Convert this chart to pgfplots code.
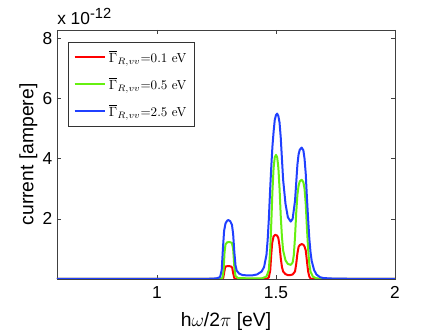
\documentclass[border=0pt]{standalone}
\usepackage{pgfplots}
\pgfplotsset{compat=1.18}
\usepackage{fontspec}
\setsansfont{Liberation Sans}
\usetikzlibrary{calc}
\definecolor{cred}{HTML}{FF0000}
\definecolor{cgreen}{HTML}{66F010}
\definecolor{cblue}{HTML}{2040FF}

\begin{document}
\begin{tikzpicture}
\begin{axis}[
  name=ax,
  scale only axis,
  width=253.5pt, height=186.75pt,
  xmin=0.58, xmax=2, ymin=0, ymax=8.28,
  xtick={1,1.5,2}, ytick={2,4,6,8},
  xticklabels={1,1.5,2},
  tick align=inside,
  major tick length=3pt,
  axis line style={black!75, line width=0.5pt},
  every tick/.style={black!75, line width=0.5pt},
  /pgf/number format/assume math mode=true,
  tick label style={font=\sffamily\fontsize{13}{13}\selectfont},
  xticklabel style={yshift=-2pt},
  xlabel={h\(\omega\)/2\(\pi\) [eV]},
  ylabel={current [ampere]},
  label style={font=\sffamily\fontsize{14.5}{14.5}\selectfont},
  xlabel style={yshift=-4pt},
  ylabel style={yshift=-3pt},
  legend style={at={(rel axis cs:0.0325,0.952)}, anchor=north west,
    font=\fontsize{9.8}{9.8}\selectfont, draw=black!80, line width=0.5pt,
    row sep=6pt, inner xsep=4pt, inner ysep=4pt},
  legend cell align=left,
  legend image code/.code={\draw[#1] (0pt,0pt) -- (23pt,0pt);},
  every axis plot/.append style={line width=1.5pt, line join=round},
]
\addplot[cred] coordinates {
(0.58,0) (1.27,0) (1.278,0.02) (1.282,0.2) (1.286,0.38) (1.29,0.42)
(1.30,0.43) (1.31,0.42) (1.316,0.38) (1.32,0.2) (1.325,0.03) (1.33,0)
(1.46,0) (1.47,0.05) (1.476,0.3) (1.48,0.8) (1.484,1.2) (1.49,1.42)
(1.497,1.47) (1.505,1.44) (1.51,1.36) (1.515,1.1) (1.52,0.7) (1.525,0.4)
(1.53,0.25) (1.54,0.16) (1.55,0.13) (1.56,0.13) (1.57,0.15) (1.58,0.25)
(1.585,0.5) (1.59,0.85) (1.595,1.07) (1.60,1.13) (1.608,1.16) (1.615,1.14)
(1.62,1.08) (1.625,0.95) (1.63,0.6) (1.635,0.25) (1.64,0.08) (1.645,0.02)
(1.65,0) (2.0,0)
};
\addlegendentry{$\overline{\Gamma}_{R,vv}$=0.1 eV}
\addplot[cgreen] coordinates {
(0.58,0) (1.265,0) (1.275,0.03) (1.28,0.3) (1.284,0.9) (1.288,1.15)
(1.295,1.22) (1.305,1.23) (1.315,1.2) (1.32,1.0) (1.325,0.4) (1.33,0.1)
(1.34,0.03) (1.40,0.02) (1.44,0.02) (1.46,0.08) (1.47,0.3) (1.476,1.0)
(1.48,1.8) (1.485,2.9) (1.49,3.7) (1.495,4.05) (1.50,4.13) (1.505,4.05)
(1.51,3.7) (1.515,3.0) (1.52,2.1) (1.525,1.4) (1.53,0.95) (1.54,0.62)
(1.55,0.5) (1.562,0.47) (1.57,0.55) (1.575,0.8) (1.58,1.4) (1.585,2.2)
(1.59,2.8) (1.595,3.1) (1.60,3.25) (1.608,3.3) (1.615,3.22) (1.62,3.0)
(1.625,2.5) (1.63,1.7) (1.635,1.0) (1.64,0.5) (1.645,0.25) (1.655,0.08)
(1.67,0.02) (1.70,0) (2.0,0)
};
\addlegendentry{$\overline{\Gamma}_{R,vv}$=0.5 eV}
\addplot[cblue] coordinates {
(0.58,0) (1.20,0) (1.25,0.02) (1.265,0.06) (1.272,0.3) (1.277,1.0)
(1.282,1.6) (1.288,1.85) (1.295,1.94) (1.30,1.96) (1.308,1.92) (1.315,1.8)
(1.32,1.5) (1.325,0.9) (1.33,0.45) (1.335,0.28) (1.345,0.18) (1.36,0.13)
(1.38,0.12) (1.40,0.12) (1.42,0.15) (1.44,0.25) (1.45,0.4) (1.46,0.8)
(1.465,1.3) (1.47,2.0) (1.475,2.9) (1.48,3.7) (1.485,4.4) (1.49,4.9)
(1.495,5.3) (1.50,5.45) (1.505,5.5) (1.51,5.42) (1.515,5.2) (1.52,4.7)
(1.525,4.0) (1.53,3.3) (1.54,2.5) (1.55,2.05) (1.562,1.91) (1.57,2.0)
(1.58,2.6) (1.585,3.2) (1.59,3.8) (1.595,4.15) (1.60,4.3) (1.608,4.37)
(1.615,4.28) (1.62,4.0) (1.625,3.5) (1.63,2.7) (1.635,2.0) (1.64,1.35)
(1.645,0.9) (1.65,0.6) (1.66,0.3) (1.67,0.15) (1.685,0.06) (1.70,0.03)
(1.75,0.01) (2.0,0)
};
\addlegendentry{$\overline{\Gamma}_{R,vv}$=2.5 eV}
\end{axis}
\node[anchor=base west, inner sep=0pt, font=\sffamily\fontsize{13}{13}\selectfont]
  at ($(ax.north west)+(0pt,4pt)$) {x 10\textsuperscript{\fontsize{11}{11}\selectfont -12}};
\path ($(ax.south west)+(-42.75pt,-36.75pt)$) rectangle ($(ax.north east)+(30.75pt,22.5pt)$);
\end{tikzpicture}
\end{document}
